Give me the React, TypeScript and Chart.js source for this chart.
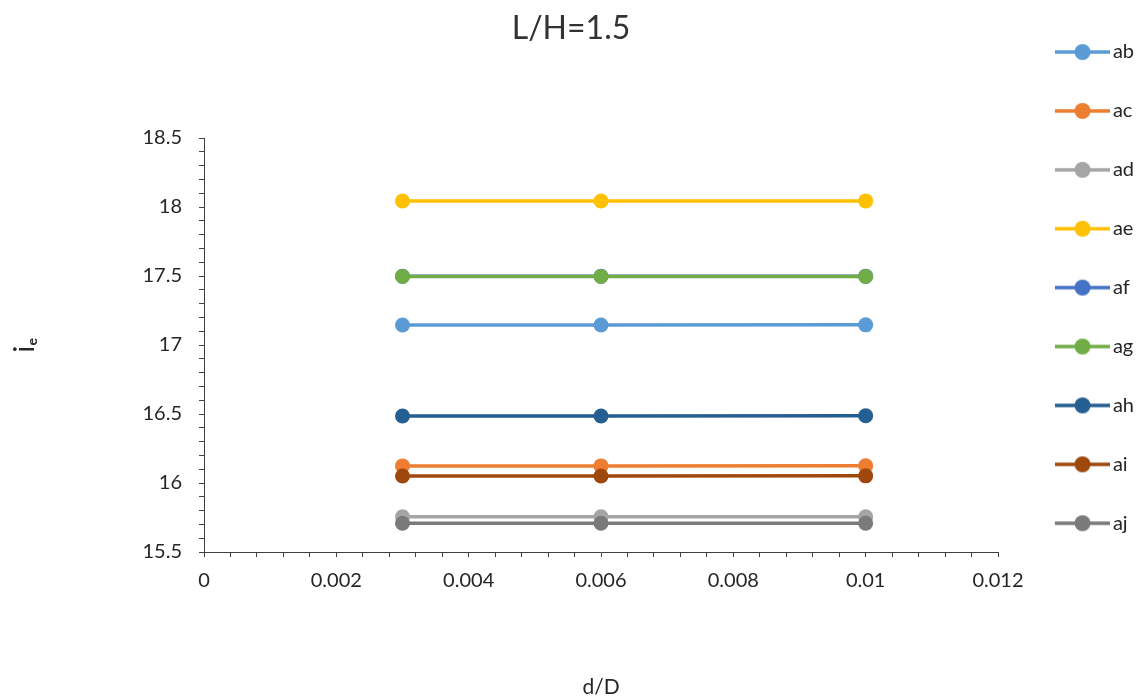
import React, { useEffect, useRef } from "react";
import { Chart, registerables } from "chart.js";

Chart.register(...registerables);

const FONT = "Lato, 'DejaVu Sans', sans-serif";

const xValues = [0.003, 0.006, 0.01];
const seriesNames = ["ab", "ac", "ad", "ae", "af", "ag", "ah", "ai", "aj"];
const seriesColors = ["#5B9BD5", "#ED7D31", "#A5A5A5", "#FFC000", "#4472C4", "#70AD47", "#255E91", "#9E480E", "#7A7A7A"];
const ab = [17.145, 17.145, 17.146];
const ac = [16.124, 16.124, 16.125];
const ad = [15.755, 15.755, 15.755];
const ae = [18.043, 18.043, 18.044];
const af = [17.498, 17.498, 17.499];
const ag = [17.496, 17.496, 17.497];
const ah = [16.486, 16.486, 16.487];
const ai = [16.051, 16.051, 16.052];
const aj = [15.708, 15.708, 15.708];
const seriesValues = [ab, ac, ad, ae, af, ag, ah, ai, aj];

const titleText = "L/H=1.5";
const xTitle = "d/D";
const yTitle = "iₑ";
const xMin = 0, xMax = 0.012, xMinorStep = 0.0004, xMajorStep = 0.002;
const yMin = 15.5, yMax = 18.5, yMinorStep = 0.1, yMajorStep = 0.5;

function isMultiple(v: number, step: number) {
  const r = v / step;
  return Math.abs(r - Math.round(r)) < 1e-6;
}

function legendImage(color: string) {
  const c = document.createElement("canvas");
  c.width = 80;
  c.height = 20;
  const ctx = c.getContext("2d")!;
  ctx.strokeStyle = color;
  ctx.lineWidth = 3.5;
  ctx.beginPath();
  ctx.moveTo(25, 10);
  ctx.lineTo(80, 10);
  ctx.stroke();
  ctx.fillStyle = color;
  ctx.beginPath();
  ctx.arc(52.6, 10, 8, 0, Math.PI * 2);
  ctx.fill();
  return c;
}

export default function App() {
  const ref = useRef<HTMLCanvasElement>(null);

  useEffect(() => {
    if (!ref.current) return;
    const images = seriesColors.map(legendImage);
    const n = seriesNames.length;
    const chart = new Chart(ref.current, {
      type: "line",
      data: {
        datasets: seriesNames.map((name, i) => ({
          label: name,
          data: xValues.map((x, j) => ({ x, y: seriesValues[i][j] })),
          borderColor: seriesColors[i],
          backgroundColor: seriesColors[i],
          pointBackgroundColor: seriesColors[i],
          pointBorderWidth: 0,
          pointRadius: 7.5,
          pointHoverRadius: 7.5,
          borderWidth: 3.5,
          tension: 0,
          order: n - i,
        })),
      },
      options: {
        animation: false,
        responsive: false,
        layout: { padding: 0 },
        plugins: {
          tooltip: { enabled: false },
          title: {
            display: true,
            text: titleText,
            color: "#333333",
            font: { family: FONT, size: 32, weight: "normal" },
            padding: { top: 9, bottom: 90.6 },
          },
          legend: {
            display: true,
            position: "right",
            align: "start",
            maxWidth: 144,
            title: { display: true, text: "", font: { size: 2.6 }, padding: 0 },
            labels: {
              usePointStyle: true,
              pointStyleWidth: 66,
              padding: 38.9,
              color: "#262626",
              font: { family: FONT, size: 20 },
              sort: (a: any, b: any) => a.datasetIndex - b.datasetIndex,
              generateLabels: (c: any) => {
                const items = Chart.defaults.plugins.legend.labels.generateLabels(c);
                return items.map((it: any) => ({ ...it, pointStyle: images[it.datasetIndex] }));
              },
            },
          },
        },
        scales: {
          x: {
            type: "linear",
            min: xMin,
            max: xMax,
            afterFit: (s: any) => {
              s.height = 148;
              s.paddingRight = 144;
            },
            border: { display: true, color: "#404040", width: 1 },
            grid: { drawOnChartArea: false, drawTicks: true, tickLength: 5, color: "#404040", lineWidth: 1 },
            ticks: {
              stepSize: xMinorStep,
              autoSkip: false,
              maxRotation: 0,
              padding: 12,
              color: "#262626",
              font: { family: FONT, size: 20 },
              callback: (v: any) => (isMultiple(Number(v), xMajorStep) ? String(parseFloat(Number(v).toFixed(4))) : ""),
            },
            title: {
              display: true,
              text: xTitle,
              color: "#262626",
              font: { family: FONT, size: 21 },
              padding: { top: 0, bottom: 0 },
            },
          },
          y: {
            type: "linear",
            min: yMin,
            max: yMax,
            afterFit: (s: any) => {
              s.width = 204;
            },
            border: { display: true, color: "#404040", width: 1 },
            grid: { drawOnChartArea: false, drawTicks: true, tickLength: 5, color: "#404040", lineWidth: 1 },
            ticks: {
              stepSize: yMinorStep,
              autoSkip: false,
              padding: 17,
              color: "#262626",
              font: { family: FONT, size: 20 },
              callback: (v: any) => (isMultiple(Number(v), yMajorStep) ? String(parseFloat(Number(v).toFixed(1))) : ""),
            },
            title: {
              display: true,
              text: yTitle,
              color: "#262626",
              font: { family: FONT, size: 28 },
              padding: { top: 8, bottom: 0 },
            },
          },
        },
      } as any,
    });
    return () => chart.destroy();
  }, []);

  return (
    <div style={{ position: "fixed", left: 0, top: 0, width: 1142, height: 700, background: "#ffffff" }}>
      <canvas ref={ref} width={1142} height={700} />
    </div>
  );
}
